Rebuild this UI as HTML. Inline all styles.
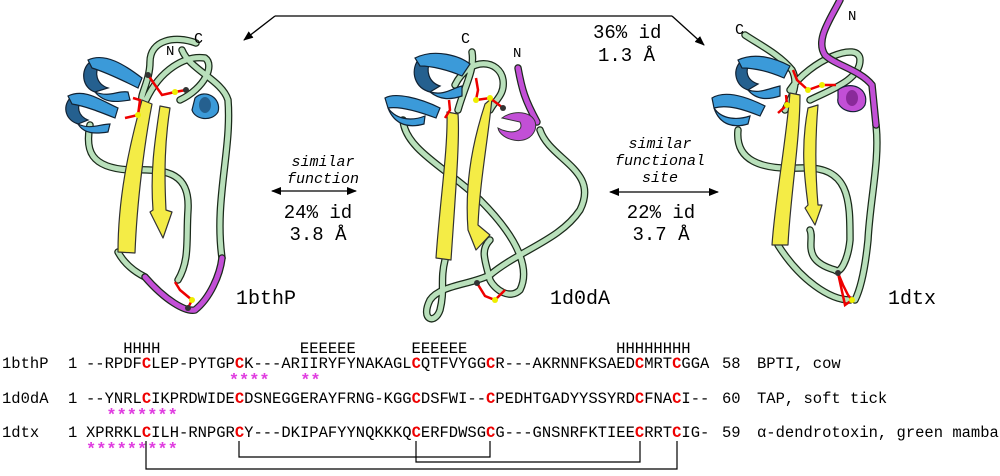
<!DOCTYPE html>
<html><head><meta charset="utf-8"><style>
html,body{margin:0;padding:0;background:#fff;width:1000px;height:476px;overflow:hidden}
svg text{font-family:"Liberation Mono","DejaVu Sans Mono",monospace;fill:#000}
.t{fill:none;stroke:#1a2a1a;stroke-width:7.5;stroke-linecap:round;stroke-linejoin:round}
.g{fill:none;stroke:#b9e0bb;stroke-width:5;stroke-linecap:round;stroke-linejoin:round}
.m{fill:none;stroke:#c24fd6;stroke-width:5;stroke-linecap:round}
.y{fill:#f4ec46;stroke:#333;stroke-width:1.2;stroke-linejoin:round}
.b{fill:#3b9ad9;stroke:#123;stroke-width:1.2}
.bd{fill:#25608f;stroke:#123;stroke-width:1.2}
.s{fill:none;stroke:#e00;stroke-width:2.5}
.r{fill:#e00;font-weight:bold}
.p{fill:#e03ce0;font-weight:bold}
</style></head><body>
<svg width="1000" height="476" viewBox="0 0 1000 476" xmlns="http://www.w3.org/2000/svg">
<defs><marker id="a" markerWidth="10" markerHeight="8" refX="9" refY="4" orient="auto" markerUnits="userSpaceOnUse"><path d="M0,0 L10,4 L0,8 Z" fill="#000"/></marker></defs>

<path d="M275,16 L672,16" stroke="#000" stroke-width="1.3" fill="none"/>
<path d="M275,16 L244,40" stroke="#000" stroke-width="1.3" marker-end="url(#a)"/>
<path d="M672,16 L704,45" stroke="#000" stroke-width="1.3" marker-end="url(#a)"/>
<text x="593" y="38" font-size="19">36% id</text>
<text x="598" y="61" font-size="19">1.3 Å</text>

<text x="323" y="166" font-size="15" font-style="italic" text-anchor="middle">similar</text>
<text x="323" y="183" font-size="15" font-style="italic" text-anchor="middle">function</text>
<path d="M316,191 L272,191" stroke="#000" stroke-width="1.3" marker-end="url(#a)"/>
<path d="M316,191 L356,191" stroke="#000" stroke-width="1.3" marker-end="url(#a)"/>
<text x="318" y="218" font-size="19" text-anchor="middle">24% id</text>
<text x="318" y="240" font-size="19" text-anchor="middle">3.8 Å</text>

<text x="660" y="148" font-size="15" font-style="italic" text-anchor="middle">similar</text>
<text x="660" y="165" font-size="15" font-style="italic" text-anchor="middle">functional</text>
<text x="660" y="182" font-size="15" font-style="italic" text-anchor="middle">site</text>
<path d="M660,192 L610,192" stroke="#000" stroke-width="1.3" marker-end="url(#a)"/>
<path d="M660,192 L718,192" stroke="#000" stroke-width="1.3" marker-end="url(#a)"/>
<text x="661" y="218" font-size="19" text-anchor="middle">22% id</text>
<text x="661" y="240" font-size="19" text-anchor="middle">3.7 Å</text>

<text x="236" y="304" font-size="20">1bthP</text>
<text x="550" y="304" font-size="20">1d0dA</text>
<text x="888" y="304" font-size="20">1dtx</text>

<!-- ========== 1bthP ========== -->
<g>
<path d="M196,43 C175,35 150,40 150,62 C150,80 140,95 142,100 M182,50 C190,70 222,80 228,100 C232,150 214,200 222,258 M146,100 C160,70 185,55 205,58 C215,65 205,88 180,100 M90,125 C85,150 90,168 130,170 C170,168 190,175 188,210 C186,240 190,260 178,280 M118,252 C125,265 135,272 145,277" class="t"/>
<path d="M196,43 C175,35 150,40 150,62 C150,80 140,95 142,100 M182,50 C190,70 222,80 228,100 C232,150 214,200 222,258 M146,100 C160,70 185,55 205,58 C215,65 205,88 180,100 M90,125 C85,150 90,168 130,170 C170,168 190,175 188,210 C186,240 190,260 178,280 M118,252 C125,265 135,272 145,277" class="g"/>
<path d="M145,277 C165,300 185,312 195,310 C210,298 220,275 222,258" class="t"/>
<path d="M145,277 C165,300 185,312 195,310 C210,298 220,275 222,258" class="m"/>
<path class="y" d="M118,252 L135,253 C137,200 145,140 152,104 L142,100 C128,150 118,200 118,252 Z"/>
<path class="y" d="M170,108 L160,106 C155,140 150,170 153,210 L150,212 L163,238 L172,212 L166,210 C164,170 165,140 170,108 Z"/>
<path class="bd" d="M90,62 C80,70 82,88 95,92 L108,88 C96,84 94,72 100,64 Z"/>
<path class="b" d="M88,60 C105,52 125,65 142,78 L138,88 C122,80 105,72 92,68 Z"/>
<path class="b" d="M95,92 C110,98 118,90 128,92 L130,100 C118,102 105,104 95,92 Z"/>
<path class="bd" d="M70,98 C62,108 66,120 78,124 L88,120 C78,116 76,106 82,100 Z"/>
<path class="b" d="M68,96 C85,88 100,100 118,108 L115,118 C100,112 85,106 72,104 Z"/>
<path class="b" d="M78,124 C90,130 100,124 110,124 L108,132 C95,134 84,134 78,124 Z"/>
<path class="b" d="M195,98 C205,88 222,98 218,112 C212,122 195,120 192,110 Z"/>
<ellipse cx="205" cy="105" rx="6" ry="8" fill="#25608f"/>
<path class="s" d="M148,75 L155,85 L162,95 L175,92 L186,90 M133,98 L140,100 L138,115 L125,118"/>
<path class="s" d="M175,282 L180,290 L192,300 L188,308"/>
<circle cx="148" cy="75" r="3" fill="#333"/><circle cx="175" cy="92" r="3" fill="#ee0"/><circle cx="186" cy="90" r="3" fill="#333"/><circle cx="138" cy="115" r="3" fill="#ee0"/><circle cx="192" cy="300" r="3" fill="#ee0"/><circle cx="188" cy="308" r="3" fill="#333"/>
<text x="194" y="43" font-size="15">C</text><text x="166" y="55" font-size="14">N</text>
</g>

<!-- ========== 1d0dA ========== -->
<g>
<path d="M472,52 C475,70 465,85 458,110 M455,85 C470,55 500,60 503,80 C505,95 495,100 490,110 M403,120 C405,150 450,170 480,200 C520,240 530,270 520,290 C510,300 495,290 490,280 C485,260 480,250 490,240 M540,130 C550,160 600,170 580,210 C560,240 520,250 490,275 C470,285 440,285 430,300 C420,320 435,325 440,310 C445,290 440,280 445,260" class="t"/>
<path d="M472,52 C475,70 465,85 458,110 M455,85 C470,55 500,60 503,80 C505,95 495,100 490,110 M403,120 C405,150 450,170 480,200 C520,240 530,270 520,290 C510,300 495,290 490,280 C485,260 480,250 490,240 M540,130 C550,160 600,170 580,210 C560,240 520,250 490,275 C470,285 440,285 430,300 C420,320 435,325 440,310 C445,290 440,280 445,260" class="g"/>
<path d="M518,68 C522,90 525,100 537,122" class="t"/><path d="M518,68 C522,90 525,100 537,122" class="m"/>
<path class="m" style="fill:#c24fd6;stroke:#333;stroke-width:1" d="M502,118 C515,108 540,112 535,130 C528,148 500,140 498,128 C510,135 525,132 520,122 Z"/>
<path class="y" d="M436,258 L451,260 C455,200 460,140 458,114 L447,112 C448,150 440,200 436,258 Z"/>
<path class="y" d="M492,98 L485,104 C470,150 465,190 468,230 L476,250 L490,235 L478,225 C480,180 488,140 492,98 Z"/>
<path class="bd" d="M418,60 C410,72 415,88 430,92 L440,86 C428,82 426,70 430,62 Z"/>
<path class="b" d="M415,58 C435,48 460,56 470,64 L462,76 C448,70 432,66 420,66 Z"/>
<path class="b" d="M430,92 C445,96 452,88 462,86 L462,96 C450,100 440,100 430,92 Z"/>
<path class="b" d="M385,98 C395,92 420,98 440,108 L436,118 C420,112 400,106 388,108 Z"/>
<path class="b" d="M388,108 C398,122 415,120 425,116 L424,124 C410,128 395,126 388,108 Z"/>
<path class="s" d="M476,78 L478,90 L476,100 L490,98 L503,108 M449,100 L450,110 L445,118"/>
<path class="s" d="M477,283 L485,296 L495,300 L505,290"/>
<circle cx="476" cy="100" r="3" fill="#ee0"/><circle cx="490" cy="98" r="3" fill="#ee0"/><circle cx="503" cy="108" r="3" fill="#333"/><circle cx="495" cy="300" r="3" fill="#ee0"/><circle cx="477" cy="283" r="3" fill="#333"/>
<text x="461" y="43" font-size="15">C</text><text x="513" y="57" font-size="14">N</text>
</g>

<!-- ========== 1dtx ========== -->
<g>
<path d="M745,35 C760,45 780,55 792,70 C800,85 790,100 785,110 M790,90 C810,60 860,40 860,60 C860,80 830,90 810,100 M738,130 C735,160 760,170 800,168 C850,165 850,200 850,240 C848,260 840,275 835,270 C800,260 815,240 810,230 M876,125 C880,160 870,200 868,240 C865,270 860,290 855,300 M778,245 C800,280 830,300 850,300" class="t"/>
<path d="M745,35 C760,45 780,55 792,70 C800,85 790,100 785,110 M790,90 C810,60 860,40 860,60 C860,80 830,90 810,100 M738,130 C735,160 760,170 800,168 C850,165 850,200 850,240 C848,260 840,275 835,270 C800,260 815,240 810,230 M876,125 C880,160 870,200 868,240 C865,270 860,290 855,300 M778,245 C800,280 830,300 850,300" class="g"/>
<path d="M840,0 C830,20 815,40 825,55 C835,65 860,70 872,85 L876,125" class="t"/>
<path d="M840,0 C830,20 815,40 825,55 C835,65 860,70 872,85 L876,125" class="m"/>
<path class="b" style="fill:#c24fd6" d="M838,90 C850,80 870,88 865,105 C858,118 835,110 838,98 Z"/>
<ellipse cx="852" cy="98" rx="6" ry="8" fill="#8a2a9a"/>
<path class="y" d="M772,245 L788,245 C790,200 800,140 800,95 L790,93 C785,150 775,200 772,245 Z"/>
<path class="y" d="M818,105 L808,108 C800,150 805,180 808,205 L805,208 L815,225 L822,205 L818,205 C815,170 815,140 818,105 Z"/>
<path class="bd" d="M740,62 C732,72 736,86 748,90 L758,84 C746,80 745,70 750,64 Z"/>
<path class="b" d="M738,60 C755,52 775,58 790,66 L784,78 C770,72 755,68 742,68 Z"/>
<path class="b" d="M748,90 C760,94 770,88 780,86 L780,96 C768,100 756,100 748,90 Z"/>
<path class="b" d="M712,98 C725,90 745,96 765,106 L760,116 C745,110 728,104 714,108 Z"/>
<path class="b" d="M714,108 C722,120 738,120 750,116 L748,124 C735,128 720,126 714,108 Z"/>
<path class="s" d="M793,70 L797,80 L808,90 L822,85 L836,85 M786,95 L787,105 L778,113"/>
<path class="s" d="M838,273 L843,285 L848,295 L852,300 L845,305 Z"/>
<circle cx="808" cy="90" r="3" fill="#ee0"/><circle cx="822" cy="85" r="3" fill="#ee0"/><circle cx="787" cy="105" r="3" fill="#ee0"/><circle cx="852" cy="300" r="3" fill="#ee0"/><circle cx="838" cy="273" r="3" fill="#333"/>
<text x="735" y="34" font-size="15">C</text><text x="848" y="20" font-size="14">N</text>
</g>

<!-- ========== alignment ========== -->
<g font-size="15.5">
<text x="86" y="353" xml:space="preserve">    HHHH               EEEEEE      EEEEEE                HHHHHHHH</text>
<text x="2" y="368">1bthP</text><text x="68" y="368">1</text>
<text x="86" y="368" xml:space="preserve">--RPDF<tspan class="r">C</tspan>LEP-PYTGP<tspan class="r">C</tspan>K---ARIIRYFYNAKAGL<tspan class="r">C</tspan>QTFVYGG<tspan class="r">C</tspan>R---AKRNNFKSAED<tspan class="r">C</tspan>MRT<tspan class="r">C</tspan>GGA</text>
<text x="722" y="368">58</text><text x="757" y="368">BPTI, cow</text>
<text x="86" y="385" font-size="17" class="p" xml:space="preserve">              ****   **</text>
<text x="2" y="403">1d0dA</text><text x="68" y="403">1</text>
<text x="86" y="403" xml:space="preserve">--YNRL<tspan class="r">C</tspan>IKPRDWIDE<tspan class="r">C</tspan>DSNEGGERAYFRNG-KGG<tspan class="r">C</tspan>DSFWI--<tspan class="r">C</tspan>PEDHTGADYYSSYRD<tspan class="r">C</tspan>FNA<tspan class="r">C</tspan>I--</text>
<text x="722" y="403">60</text><text x="757" y="403">TAP, soft tick</text>
<text x="86" y="420" font-size="17" class="p" xml:space="preserve">  *******</text>
<text x="2" y="437">1dtx</text><text x="68" y="437">1</text>
<text x="86" y="437" xml:space="preserve">XPRRKL<tspan class="r">C</tspan>ILH-RNPGR<tspan class="r">C</tspan>Y---DKIPAFYYNQKKKQ<tspan class="r">C</tspan>ERFDWSG<tspan class="r">C</tspan>G---GNSNRFKTIEE<tspan class="r">C</tspan>RRT<tspan class="r">C</tspan>IG-</text>
<text x="722" y="437">59</text><text x="757" y="437">α-dendrotoxin, green mamba</text>
<text x="86" y="454" font-size="17" class="p" xml:space="preserve">*********</text>
</g>
<path d="M239,441 V457 H490 V441 M416,441 V462 H640 V441 M146,441 V469 H677 V441" fill="none" stroke="#000" stroke-width="1.2"/>
</svg>
</body></html>
